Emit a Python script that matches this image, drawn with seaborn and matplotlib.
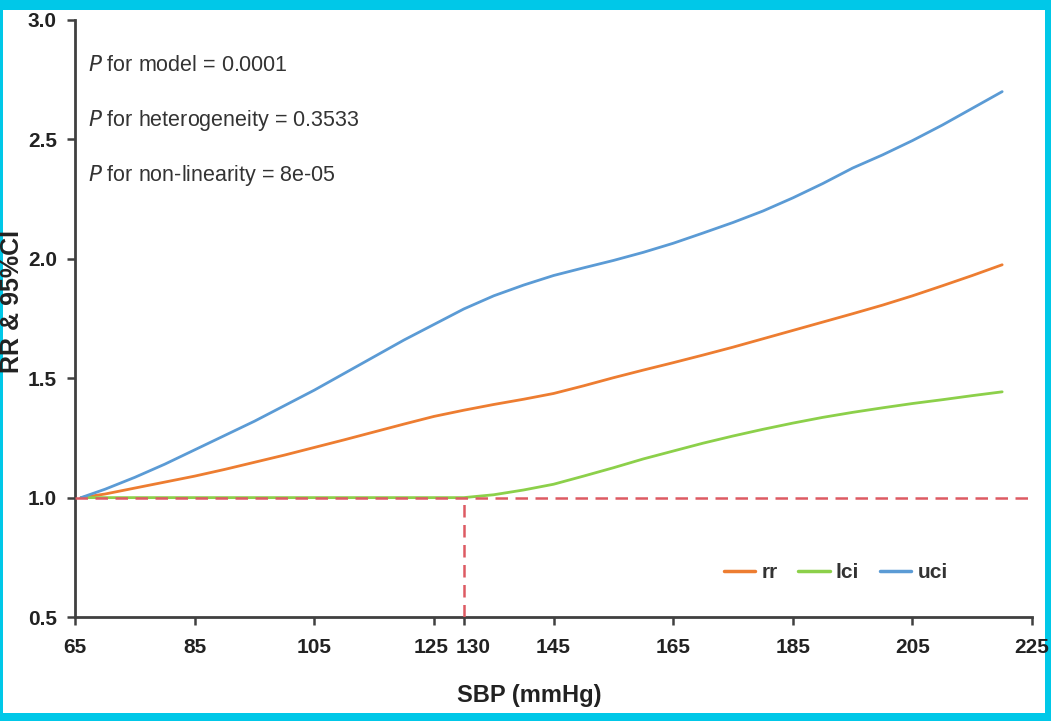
import matplotlib
matplotlib.use("Agg")
import matplotlib.pyplot as plt
import matplotlib.patches as mpatches
import matplotlib.transforms as mtransforms
import numpy as np
import pandas as pd
import seaborn as sns

# values
sbp = [66, 70, 75, 80, 85, 90, 95, 100, 105, 110, 115, 120, 125, 130, 135, 140, 145,
       150, 155, 160, 165, 170, 175, 180, 185, 190, 195, 200, 205, 210, 215, 220]
rr = [1.0, 1.015, 1.04, 1.065, 1.09, 1.118, 1.148, 1.178, 1.21, 1.242, 1.275, 1.308, 1.34, 1.366, 1.39, 1.412, 1.436,
      1.468, 1.502, 1.534, 1.565, 1.597, 1.63, 1.665, 1.70, 1.735, 1.77, 1.806, 1.845, 1.887, 1.93, 1.975]
lci = [1.0, 1.0, 1.0, 1.0, 1.0, 1.0, 1.0, 1.0, 1.0, 1.0, 1.0, 1.0, 1.0, 1.0, 1.012, 1.032, 1.056,
       1.09, 1.125, 1.162, 1.195, 1.228, 1.258, 1.286, 1.312, 1.336, 1.357, 1.376, 1.394, 1.41, 1.427, 1.443]
uci = [1.0, 1.035, 1.085, 1.14, 1.20, 1.26, 1.32, 1.385, 1.45, 1.52, 1.59, 1.66, 1.725, 1.79, 1.845, 1.89, 1.93,
       1.962, 1.993, 2.027, 2.065, 2.108, 2.152, 2.20, 2.255, 2.315, 2.38, 2.435, 2.495, 2.56, 2.63, 2.70]

x_ticks = [65, 85, 105, 125, 130, 145, 165, 185, 205, 225]
y_ticks = [0.5, 1.0, 1.5, 2.0, 2.5, 3.0]
ref_rr = 1.0
cut_sbp = 130
stats_text = [("model", "0.0001"), ("heterogeneity", "0.3533"), ("non-linearity", "8e-05")]

df = pd.DataFrame({
    "SBP": sbp * 3,
    "value": rr + lci + uci,
    "series": ["rr"] * len(sbp) + ["lci"] * len(sbp) + ["uci"] * len(sbp),
})

sns.set_style("ticks")
plt.rcParams["font.family"] = ["Liberation Sans", "DejaVu Sans"]

fig = plt.figure(figsize=(10.51, 7.21), dpi=100)
fig.patch.set_facecolor("#00C8E8")
fig.add_artist(mpatches.Rectangle((0.003, 0.011), 0.991, 0.975, transform=fig.transFigure,
                                  facecolor="white", edgecolor="none", zorder=0))
ax = fig.add_axes([0.0714, 0.1442, 0.9106, 0.8281])

palette = {"rr": "#ED7D31", "lci": "#8CD04A", "uci": "#5B9BD5"}
sns.lineplot(data=df, x="SBP", y="value", hue="series", hue_order=["rr", "lci", "uci"],
             palette=palette, linewidth=2.0, ax=ax, zorder=2)

# reference lines
red = "#DD5A63"
ax.plot([65, 225], [ref_rr, ref_rr], color=red, lw=1.8, dashes=(5, 3), zorder=3)
ax.plot([cut_sbp, cut_sbp], [0.5, ref_rr], color=red, lw=1.8, dashes=(5, 3), zorder=3)

ax.set_xlim(65, 225)
ax.set_ylim(0.5, 3.0)
ax.set_xticks(x_ticks)
ax.set_yticks(y_ticks)
ax.set_yticklabels([f"{v:.1f}" for v in y_ticks])
ax.tick_params(axis="both", labelsize=15, length=6, width=1.8, color="#404040")
ax.tick_params(axis="x", pad=9)
ax.tick_params(axis="y", pad=7)
for lab in ax.get_xticklabels() + ax.get_yticklabels():
    lab.set_fontweight("bold")
    lab.set_color("#222222")
# 125 and 130 sit close together: nudge them apart
xlabs = ax.get_xticklabels()
xlabs[3].set_transform(xlabs[3].get_transform() + mtransforms.ScaledTranslation(-3 / 100, 0, fig.dpi_scale_trans))
xlabs[4].set_transform(xlabs[4].get_transform() + mtransforms.ScaledTranslation(9 / 100, 0, fig.dpi_scale_trans))
for side in ["left", "bottom"]:
    ax.spines[side].set_linewidth(2.0)
    ax.spines[side].set_color("#404040")
sns.despine(ax=ax)

ax.set_xlabel("SBP (mmHg)", fontsize=17, fontweight="bold", color="#222222")
ax.set_ylabel("RR & 95%CI", fontsize=18, fontweight="bold", color="#222222")
ax.xaxis.set_label_coords(0.475, -0.112)
ax.yaxis.set_label_coords(-0.053, 0.529)

for i, (name, p) in enumerate(stats_text):
    ax.text(0.014, 0.915 - i * 0.092, f"$\\it{{P}}$ for {name} = {p}", transform=ax.transAxes,
            fontsize=15.5, color="#333333", va="baseline")

leg = ax.legend(loc="center", bbox_to_anchor=(0.795, 0.074), ncol=3, frameon=False,
                handlelength=1.5, columnspacing=1.0, handletextpad=0.3, fontsize=15)
for t in leg.get_texts():
    t.set_fontweight("bold")
    t.set_color("#333333")
for h in leg.get_lines():
    h.set_linewidth(2.5)

fig.savefig("out.png", dpi=100, facecolor=fig.get_facecolor())
